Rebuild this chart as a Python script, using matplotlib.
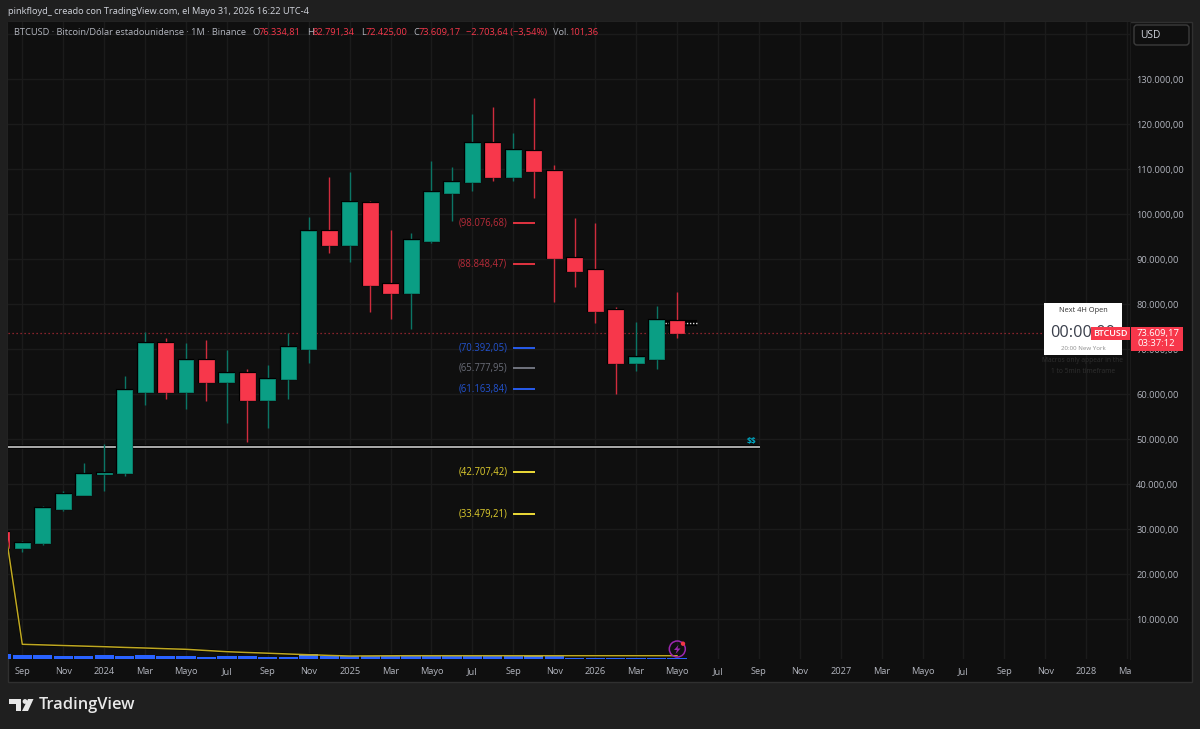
import matplotlib
matplotlib.use('Agg')
import matplotlib.pyplot as plt
from matplotlib.patches import Rectangle, Circle, Polygon, FancyBboxPatch
from matplotlib.transforms import Bbox, IdentityTransform, TransformedBbox

plt.rcParams['font.family'] = ['Open Sans', 'DejaVu Sans']

# velas mensuales, Ago 2023 (mes -1) hasta Mayo 2026 (mes 32)
months = list(range(-1, 33))
opens = [29333, 25911, 26888, 34578, 37622, 42283, 42444, 60578, 71467, 60578, 67622, 62667,
         64800, 58733, 63333, 70067, 96356, 93244, 102560, 84444, 82444, 94133, 104722, 107244,
         115778, 108222, 114000, 109600, 90356, 87689, 78733, 66956, 67911, 76334.81]
highs = [29900, 27467, 35245, 38444, 44800, 49022, 64067, 73778, 72578, 71333, 72067, 69844,
         65622, 66511, 73556, 99467, 108222, 109400, 102889, 96511, 95778, 111844, 110444, 122222,
         123778, 117989, 125844, 111022, 99111, 98000, 79400, 76067, 79622, 82791.34]
lows = [25700, 25022, 26500, 34067, 37622, 38578, 41844, 57622, 58956, 56667, 58578, 53689,
        49467, 52578, 58956, 66956, 91333, 89467, 78222, 76667, 74511, 93689, 98578, 105244,
        107467, 107333, 103689, 80511, 83911, 75778, 60000, 65178, 65689, 72425]
closes = [25778, 26955, 34733, 37778, 42289, 42600, 60889, 71467, 60578, 67622, 62667, 64800,
          58733, 63333, 70444, 96356, 93244, 102733, 84289, 82444, 94289, 104889, 107111, 115778,
          108222, 114222, 109556, 90289, 87400, 78578, 66956, 68289, 76444, 73609.17]

vol_base = [5, 4, 4, 3.3, 3, 4, 3.3, 4, 3.3, 2.7, 2, 2.7, 2.7, 2.3, 2.3, 3.3, 3.3, 3.3,
            3, 3, 2.7, 2.7, 2.7, 2.7, 2.7, 2.7, 2.3, 2.7, 1, 1, 1, 1, 1, 1]
vol_top = [0, 0, 0, 0, 0, 0, 0, 0, 0, 0, 0, 0, 0, 0, 0, 1.4, 0, 0,
           0, 0, 1.6, 0, 0, 0, 0, 0, 1.7, 0, 0, 0, 0, 0, 0, 0]
yellow = [152, 14.7, 14.1, 13.5, 12.9, 12.3, 11.6, 11, 10.3, 9.7, 8.5, 7.3, 6.5, 5.8, 5, 4.3, 3.6,
          3, 3.1, 3.2, 3.3, 3.3, 3.3, 3.3, 3.3, 3.3, 3.3, 3.3, 3.3, 3.3, 3.3, 3.3, 3.3, 3.3]

# niveles fib
level_values = [98076.68, 88848.47, 70392.05, 65777.95, 61163.84, 42707.42, 33479.21]
level_labels = ['(98.076,68)', '(88.848,47)', '(70.392,05)', '(65.777,95)', '(61.163,84)', '(42.707,42)', '(33.479,21)']
level_colors = ['#F23645', '#F23645', '#2962FF', '#787B86', '#2962FF', '#FFEB3B', '#FFEB3B']
level_text = ['#B92C3A', '#B92C3A', '#2353D0', '#6A6D78', '#2353D0', '#E0CE2E', '#E0CE2E']
white_level = 48289
next_open = 75950

price_ticks = list(range(10000, 150000, 10000))
price_labels = ['10.000,00', '20.000,00', '30.000,00', '40.000,00', '50.000,00', '60.000,00', '70.000,00',
                '80.000,00', '90.000,00', '100.000,00', '110.000,00', '120.000,00', '130.000,00', '']
month_ticks = list(range(0, 56, 2))
month_labels = ['Sep', 'Nov', '2024', 'Mar', 'Mayo', 'Jul', 'Sep', 'Nov', '2025', 'Mar', 'Mayo', 'Jul', 'Sep', 'Nov',
                '2026', 'Mar', 'Mayo', 'Jul', 'Sep', 'Nov', '2027', 'Mar', 'Mayo', 'Jul', 'Sep', 'Nov', '2028', 'Mar']

GREEN = '#0A9E84'
GREEN_W = '#0B7565'
RED = '#F7374B'
RED_W = '#D02C3D'
BG = '#1F1F1F'
PANE = '#0F0F0F'
GRID = '#1B1B1B'
TICK = '#B2B5BE'
W, H = 1200, 729

fig = plt.figure(figsize=(12, 7.29), dpi=100, facecolor=BG)


# helpers en pixeles de la imagen (y hacia abajo)
def txt(x, y, s, color='#D1D4DC', size=6.65, ha='left', **kw):
    return fig.text(x / W, 1 - y / H, s, color=color, fontsize=size, ha=ha, va='center', **kw)


def box(x0, y0, x1, y1, color, z=5, **kw):
    r = Rectangle((x0, H - y1), x1 - x0, y1 - y0, transform=IdentityTransform(), facecolor=color,
                  edgecolor='none', zorder=z, **kw)
    fig.add_artist(r)
    return r


# fondo del panel completo
fig.add_artist(Rectangle((7.5, H - 681.5), 1184, 660, transform=IdentityTransform(), facecolor=PANE,
                         edgecolor='#303030', lw=1, zorder=-1))

ax = fig.add_axes([8 / W, 1 - 659 / H, 1122 / W, 637 / H], facecolor=PANE)
ax.set_xlim(-0.699, 54.14)
ax.set_ylim(1178, 142733)
for s in ax.spines.values():
    s.set_visible(False)
ax.spines['right'].set_visible(True)
ax.spines['right'].set_color('#1A1A1A')

ax.yaxis.tick_right()
ax.set_yticks(price_ticks)
ax.set_yticklabels(price_labels)
ax.set_xticks(month_ticks)
ax.set_xticklabels(month_labels)
ax.tick_params(length=0, colors=TICK, labelsize=6.7)
ax.tick_params(axis='y', pad=4.5)
ax.tick_params(axis='x', pad=6)
ax.grid(True, color=GRID, lw=1)
ax.set_axisbelow(True)

# el ultimo "Mar" queda cortado por la escala de precios
clip = TransformedBbox(Bbox([[0, 0], [1131, H]]), IdentityTransform())
for t in ax.get_xticklabels():
    t.set_clip_box(clip)
    t.set_clip_on(True)

# linea de precio actual y linea blanca
ax.axhline(closes[-1], color='#F23645', lw=0.9, ls=(0, (1, 2.2)), alpha=0.7, zorder=1)
ax.plot([-0.699, 36.05], [white_level, white_level], color='black', lw=2.6, zorder=1.1, solid_capstyle='butt')
ax.plot([-0.699, 36.05], [white_level, white_level], color='#D8D8D8', lw=1.1, zorder=1.2, solid_capstyle='butt')
ax.text(35.9, white_level + 1300, '$$', color='#00A5C0', fontsize=6, ha='right', va='center',
        fontweight='bold', parse_math=False)

# niveles
for v, lab, c, tc in zip(level_values, level_labels, level_colors, level_text):
    ax.plot([24, 25.05], [v, v], color=c, lw=1.3, zorder=2, solid_capstyle='butt')
    ax.text(23.7, v, lab, color=tc, fontsize=6.85, ha='right', va='center', zorder=2)

# proximo open punteado
ax.plot([31.4, 33.0], [next_open, next_open], color='black', lw=4.5, zorder=1.5, solid_capstyle='butt')
ax.plot([31.4, 33.0], [next_open, next_open], color='#DDDDDD', lw=1, ls=(0, (1, 1.2)), zorder=1.6)

# velas
up = [c >= o for o, c in zip(opens, closes)]
body_col = [GREEN if u else RED for u in up]
wick_col = [GREEN_W if u else RED_W for u in up]
bottoms = [min(o, c) for o, c in zip(opens, closes)]
heights = [abs(c - o) for o, c in zip(opens, closes)]
ax.vlines(months, lows, highs, colors=wick_col, lw=1, zorder=3)
ax.bar(months, heights, bottom=bottoms, width=0.73, color=body_col, edgecolor='black', lw=1.6, zorder=3.5)
ax.bar(months, heights, bottom=bottoms, width=0.73, color=body_col,
       edgecolor=['#0A7F6B' if u else '#D93042' for u in up], lw=0.7, zorder=4)

# volumen en su propio eje, unidades de pixel
ax2 = fig.add_axes(ax.get_position(), frameon=False, zorder=1)
ax2.set_xlim(ax.get_xlim())
ax2.set_ylim(0, 637)
ax2.set_xticks([])
ax2.set_yticks([])
ax2.patch.set_alpha(0)
ax2.plot(months, yellow, color='black', lw=1.8, zorder=1)
ax2.bar(months, vol_base, width=0.94, color='#2962FF', zorder=2)
ax2.bar(months, vol_top, bottom=vol_base, width=0.94, color='#7F9CBE', zorder=2)
ax2.plot(months, yellow, color='#BFA822', lw=1.1, zorder=3)

# cabecera
txt(8, 11.5, 'pinkfloyd_ creado con TradingView.com, el Mayo 31, 2026 16:22 UTC-4')
txt(14.3, 32.5, 'BTCUSD · Bitcoin/Dólar estadounidense · 1M · Binance', color='#B2B5BE')
for x, s, c in [(252.7, 'O', '#B2B5BE'), (259, '76.334,81', RED), (306.7, 'H', '#B2B5BE'), (313, '82.791,34', RED),
                (360.7, 'L', '#B2B5BE'), (365.7, '72.425,00', RED), (413, 'C', '#B2B5BE'), (419, '73.609,17', RED),
                (466, '−2.703,64 (−3,54%)', RED), (553, 'Vol.', '#B2B5BE'), (569, '101,36', RED)]:
    txt(x, 32.5, s, color=c)

# boton USD
fig.add_artist(FancyBboxPatch((1134, H - 45), 55, 20, boxstyle='round,pad=0,rounding_size=3', mutation_scale=1,
                              transform=IdentityTransform(), facecolor=PANE, edgecolor='#3C3C3C', lw=1,
                              zorder=5))
txt(1140, 35.5, 'USD', size=7.3, zorder=6)

# caja blanca Next 4H Open
box(1044, 303.3, 1122, 355.3, '#FFFFFF', z=5)
txt(1083, 310.5, 'Next 4H Open', color='#333333', size=5.3, ha='center', zorder=6)
txt(1083, 332.5, '00:00:00', color='#3A3F4B', size=11.7, ha='center', zorder=6)
txt(1083, 349, '20:00 New York', color='#8C8C8C', size=4.4, ha='center', zorder=6)
txt(1083, 360.5, 'Macros only appear in the', color='#303030', size=4.8, ha='center', zorder=6)
txt(1083, 371.5, '1 to 5min timeframe', color='#303030', size=4.8, ha='center', zorder=6)

# etiquetas de precio
box(1090.7, 327.3, 1130, 340, RED, z=7)
txt(1110.3, 333.6, 'BTCUSD', color='white', size=6.5, ha='center', fontweight='semibold', zorder=8)
box(1130.7, 326.7, 1183.3, 350.7, RED, z=7)
txt(1137, 333.5, '73.609,17', color='white', size=6.8, fontweight='medium', zorder=8)
txt(1137, 344, '03:37:12', color='white', size=6.8, zorder=8)

# icono rayo
fig.add_artist(Circle((677.3, H - 649), 8, transform=IdentityTransform(), facecolor='none', edgecolor='#9C27B0', lw=1.1, zorder=6))
fig.add_artist(Circle((683, H - 643.7), 2.2, transform=IdentityTransform(), facecolor='#F23645', edgecolor='none', zorder=7))
fig.add_artist(Polygon([(678.5, H - 645), (674, H - 650), (677, H - 650), (675.5, H - 654), (680.5, H - 648.5), (677.5, H - 648.5)],
                       closed=True, transform=IdentityTransform(), facecolor='#9C27B0', edgecolor='none', zorder=7))

# logo TradingView
box(9.3, 699, 20.5, 703.5, '#E8E8E8', z=5)
box(15.5, 699, 20.5, 711, '#E8E8E8', z=5)
fig.add_artist(Circle((25, H - 701.5), 2.4, transform=IdentityTransform(), facecolor='#E8E8E8', edgecolor='none', zorder=5))
fig.add_artist(Polygon([(28, H - 699), (33.5, H - 699), (28, H - 711), (22, H - 711)], closed=True,
                       transform=IdentityTransform(), facecolor='#E8E8E8', edgecolor='none', zorder=5))
txt(38.5, 705, 'TradingView', color='#E8E8E8', size=11.8, fontweight='semibold', zorder=5)

fig.savefig('out.png', dpi=100, facecolor=BG)
